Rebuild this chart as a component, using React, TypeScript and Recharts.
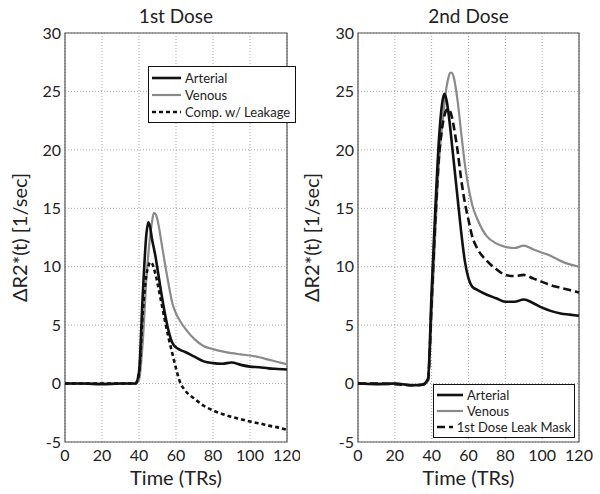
import React from "react";
import {
  LineChart,
  Line,
  XAxis,
  YAxis,
  CartesianGrid,
  ReferenceArea,
  Legend,
} from "recharts";

// time axis (TRs)
const time = [0, 10, 20, 30, 35, 38, 40, 42, 44, 45, 46, 47, 48, 49, 50, 51, 52, 54, 56, 58, 60, 62, 65, 70, 75, 80, 85, 90, 95, 100, 105, 110, 115, 120];

// 1st dose
const arterial1 = [0, 0, -0.05, 0, 0, 0, 1.0, 7.5, 12.8, 13.8, 13.4, 12.4, 11.6, 10.8, 9.8, 8.8, 7.8, 6.0, 4.5, 3.5, 3.1, 2.9, 2.7, 2.3, 1.9, 1.75, 1.7, 1.8, 1.6, 1.45, 1.4, 1.3, 1.25, 1.2];
const venous1 = [0, 0, 0, 0, 0, 0, 0.3, 3.5, 9.0, 11.0, 12.6, 13.8, 14.6, 14.5, 14.0, 13.2, 12.2, 10.3, 8.5, 6.9, 6.0, 5.4, 4.7, 3.8, 3.2, 2.95, 2.75, 2.6, 2.5, 2.4, 2.25, 2.05, 1.85, 1.65];
const leakage1 = [0, 0, 0, 0, 0, 0, 0.8, 6.0, 9.3, 10.0, 10.4, 10.3, 9.9, 9.3, 8.6, 7.8, 7.0, 5.4, 3.9, 2.6, 1.3, 0.2, -0.6, -1.3, -1.9, -2.3, -2.6, -2.85, -3.05, -3.25, -3.4, -3.6, -3.75, -3.95];

// 2nd dose
const arterial2 = [0, -0.05, 0, -0.15, -0.1, 0.4, 8.0, 15.0, 21.0, 23.0, 24.3, 24.8, 24.3, 23.3, 22.0, 20.5, 19.0, 16.0, 13.0, 10.5, 9.0, 8.3, 8.0, 7.6, 7.3, 7.0, 7.0, 7.2, 6.9, 6.5, 6.2, 6.0, 5.9, 5.8];
const venous2 = [0, 0, 0, -0.1, -0.05, 0.2, 6.0, 13.0, 19.0, 21.0, 22.5, 24.0, 25.3, 26.1, 26.6, 26.6, 26.2, 24.3, 21.5, 18.8, 16.8, 15.3, 14.0, 12.6, 12.0, 11.7, 11.6, 11.8, 11.5, 11.2, 10.9, 10.5, 10.2, 10.0];
const leakMask2 = [0, 0, -0.05, -0.15, -0.1, 0.3, 7.0, 14.0, 19.5, 21.0, 22.2, 23.0, 23.4, 23.5, 23.3, 22.8, 22.0, 20.0, 17.5, 15.5, 14.0, 12.6, 11.5, 10.5, 9.8, 9.3, 9.2, 9.3, 9.0, 8.7, 8.4, 8.2, 8.0, 7.8];

const xTicks = [0, 20, 40, 60, 80, 100, 120];
const yTicks = [-5, 0, 5, 10, 15, 20, 25, 30];

const FONT = "Lato, 'DejaVu Sans', sans-serif";
const BLACK = "#111111";
const GRAY = "#8a8a8a";

type Series = { key: string; name: string; color: string; width: number; dash?: string };

interface PanelProps {
  title: string;
  a: number[];
  b: number[];
  c: number[];
  series: Series[];
  legendSeries: Series[];
  yAxisWidth: number;
  rightMargin: number;
  yLabelOffset: number;
  legendBox: { left: number; top: number; width: number; rowH: number; lineW: number };
}

const LegendBox = ({ series, box }: { series: Series[]; box: PanelProps["legendBox"] }) => (
  <div
    style={{
      width: box.width,
      boxSizing: "border-box",
      border: "1.5px solid #111",
      background: "#fff",
      padding: "2px 3px",
      fontFamily: FONT,
      fontSize: 13,
      color: "#222",
    }}
  >
    {series.map((s) => (
      <div key={s.key} style={{ display: "flex", alignItems: "center", height: box.rowH, whiteSpace: "nowrap" }}>
        <svg width={box.lineW} height={6} style={{ marginRight: 4 }}>
          <line x1={0} y1={3} x2={box.lineW} y2={3} stroke={s.color} strokeWidth={s.width} strokeDasharray={s.dash} />
        </svg>
        <span>{s.name}</span>
      </div>
    ))}
  </div>
);

const Panel: React.FC<PanelProps> = ({ title, a, b, c, series, legendSeries, yAxisWidth, rightMargin, yLabelOffset, legendBox }) => {
  const rows = time.map((t, i) => ({ t, a: a[i], b: b[i], c: c[i] }));
  const plotLeft = yAxisWidth;
  const plotRight = 300 - rightMargin;
  return (
    <div style={{ position: "relative", width: 300, height: 494 }}>
      <div
        style={{
          position: "absolute",
          left: plotLeft,
          width: plotRight - plotLeft,
          top: 4,
          textAlign: "center",
          fontFamily: FONT,
          fontSize: 19,
          color: "#222",
        }}
      >
        {title}
      </div>
      <LineChart width={300} height={494} data={rows} margin={{ top: 33, right: rightMargin, left: 0, bottom: 7 }}>
        <CartesianGrid stroke="#a8a8a8" strokeDasharray="1 2" verticalValues={xTicks} horizontalValues={yTicks} />
        <XAxis
          dataKey="t"
          type="number"
          domain={[0, 120]}
          ticks={xTicks}
          interval={0}
          height={45}
          axisLine={false}
          tickLine={false}
          tickSize={4}
          tickMargin={4}
          tick={{ fill: "#222", fontSize: 16, fontFamily: FONT }}
          label={{ value: "Time (TRs)", position: "insideBottom", offset: 2, style: { fill: "#222", fontSize: 20, fontFamily: FONT } }}
        />
        <YAxis
          type="number"
          domain={[-5, 30]}
          ticks={yTicks}
          interval={0}
          width={yAxisWidth}
          axisLine={false}
          tickLine={false}
          tickSize={2}
          tickMargin={2}
          tick={{ fill: "#222", fontSize: 16, fontFamily: FONT }}
          label={{
            value: "ΔR2*(t) [1/sec]",
            angle: -90,
            position: "insideLeft",
            offset: yLabelOffset,
            style: { textAnchor: "middle", fill: "#222", fontSize: 20, fontFamily: FONT },
          }}
        />
        <ReferenceArea x1={0} x2={120} y1={-5} y2={30} fill="none" stroke="#555" strokeWidth={1.2} ifOverflow="visible" />
        {series.map((s) => (
          <Line
            key={s.key}
            dataKey={s.key}
            name={s.name}
            type="monotone"
            stroke={s.color}
            strokeWidth={s.width}
            strokeDasharray={s.dash}
            dot={false}
            activeDot={false}
            isAnimationActive={false}
          />
        ))}
        <Legend
          layout="vertical"
          align="center"
          verticalAlign="middle"
          wrapperStyle={{ left: legendBox.left, top: legendBox.top, width: legendBox.width, right: "auto", bottom: "auto" }}
          content={() => <LegendBox series={legendSeries} box={legendBox} />}
        />
      </LineChart>
    </div>
  );
};

export default function App() {
  const series1: Series[] = [
    { key: "b", name: "Venous", color: GRAY, width: 2.2 },
    { key: "a", name: "Arterial", color: BLACK, width: 2.6 },
    { key: "c", name: "Comp. w/ Leakage", color: BLACK, width: 2.6, dash: "4 3" },
  ];
  const series2: Series[] = [
    { key: "b", name: "Venous", color: GRAY, width: 2.2 },
    { key: "a", name: "Arterial", color: BLACK, width: 2.6 },
    { key: "c", name: "1st Dose Leak Mask", color: BLACK, width: 2.6, dash: "8 4" },
  ];
  // legend lists arterial first; lines drawn venous underneath
  const legendOrder = (s: Series[]) => [s[1], s[0], s[2]];
  return (
    <div style={{ position: "absolute", left: 0, top: 0, width: 600, height: 494, background: "#fff", display: "flex" }}>
      <Panel
        title="1st Dose"
        a={arterial1}
        b={venous1}
        c={leakage1}
        series={series1}
        legendSeries={legendOrder(series1)}
        yAxisWidth={65}
        rightMargin={13}
        yLabelOffset={20}
        legendBox={{ left: 148, top: 66, width: 148, rowH: 17, lineW: 29 }}
      />
      <Panel
        title="2nd Dose"
        a={arterial2}
        b={venous2}
        c={leakMask2}
        series={series2}
        legendSeries={legendOrder(series2)}
        yAxisWidth={58}
        rightMargin={21}
        yLabelOffset={12}
        legendBox={{ left: 133, top: 384, width: 142, rowH: 16, lineW: 26 }}
      />
    </div>
  );
}
